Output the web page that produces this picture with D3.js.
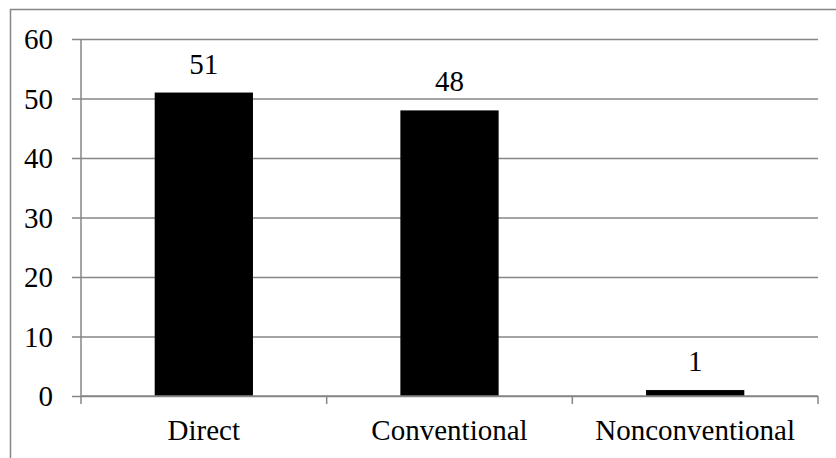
<!DOCTYPE html>
<html>
<head>
<meta charset="utf-8">
<script src="https://cdn.jsdelivr.net/npm/d3@7"></script>
<style>
  html, body { margin: 0; padding: 0; background: #fff; }
  svg { display: block; }
  text { font-family: "Liberation Serif", "Times New Roman", serif; fill: #000; }
</style>
</head>
<body>
<svg id="chart" width="836" height="458"></svg>
<script>
// Request types and their counts
const categories = ["Direct", "Conventional", "Nonconventional"];
const counts = [51, 48, 1];
const yTicks = [0, 10, 20, 30, 40, 50, 60];

const svg = d3.select("#chart");
const plot = { left: 81, right: 818, top: 39, bottom: 396 };
const gridColor = "#868686";
const fontSize = 29;
const serif = "Liberation Serif, Times New Roman, serif";

// Chart frame
svg.append("rect")
  .attr("x", 10.5).attr("y", 9.5)
  .attr("width", 1000).attr("height", 1000)
  .attr("fill", "none")
  .attr("stroke", gridColor).attr("stroke-width", 1.5);

const x = d3.scaleBand()
  .domain(categories)
  .range([plot.left, plot.right])
  .paddingInner(0.6)
  .paddingOuter(0.3);

const xOuter = d3.scaleBand()
  .domain(categories)
  .range([plot.left, plot.right]);

const y = d3.scaleLinear()
  .domain([0, 60])
  .range([plot.bottom, plot.top]);

// Horizontal gridlines with left tick marks and labels
const yAxis = d3.axisLeft(y)
  .tickValues(yTicks)
  .tickSize(-(plot.right - plot.left))
  .tickFormat(d3.format("d"));

const gy = svg.append("g")
  .attr("transform", `translate(${plot.left},0)`)
  .call(yAxis);
gy.select(".domain").remove();
gy.selectAll(".tick line")
  .attr("stroke", gridColor).attr("stroke-width", 1.5)
  .attr("x1", -9);
gy.selectAll(".tick text")
  .attr("font-size", fontSize)
  .attr("font-family", serif)
  .attr("dy", "0.34em")
  .attr("x", -28);

// Vertical axis line
svg.append("line")
  .attr("x1", plot.left).attr("x2", plot.left)
  .attr("y1", plot.top).attr("y2", plot.bottom)
  .attr("stroke", gridColor).attr("stroke-width", 1.5);

// Bars
svg.append("g").selectAll("rect")
  .data(categories)
  .join("rect")
  .attr("x", d => x(d))
  .attr("width", x.bandwidth())
  .attr("y", (d, i) => y(counts[i]))
  .attr("height", (d, i) => y(0) - y(counts[i]))
  .attr("fill", "#000");

// Horizontal axis with category boundary ticks
const gx = svg.append("g").attr("transform", `translate(0,${plot.bottom})`);
gx.append("line")
  .attr("x1", plot.left).attr("x2", plot.right)
  .attr("stroke", gridColor).attr("stroke-width", 1.5);
const bounds = categories.map(c => xOuter(c)).concat([plot.right]);
gx.selectAll("line.bound")
  .data(bounds)
  .join("line")
  .attr("class", "bound")
  .attr("x1", d => d).attr("x2", d => d)
  .attr("y1", 0).attr("y2", 8)
  .attr("stroke", gridColor).attr("stroke-width", 1.5);
gx.selectAll("text")
  .data(categories)
  .join("text")
  .attr("x", d => xOuter(d) + xOuter.bandwidth() / 2)
  .attr("y", 44)
  .attr("text-anchor", "middle")
  .attr("font-size", fontSize)
  .text(d => d);

// Value labels above bars
svg.append("g").selectAll("text")
  .data(categories)
  .join("text")
  .attr("x", d => x(d) + x.bandwidth() / 2)
  .attr("y", (d, i) => y(counts[i]) - 19)
  .attr("text-anchor", "middle")
  .attr("font-size", fontSize)
  .text((d, i) => counts[i]);
</script>
</body>
</html>
